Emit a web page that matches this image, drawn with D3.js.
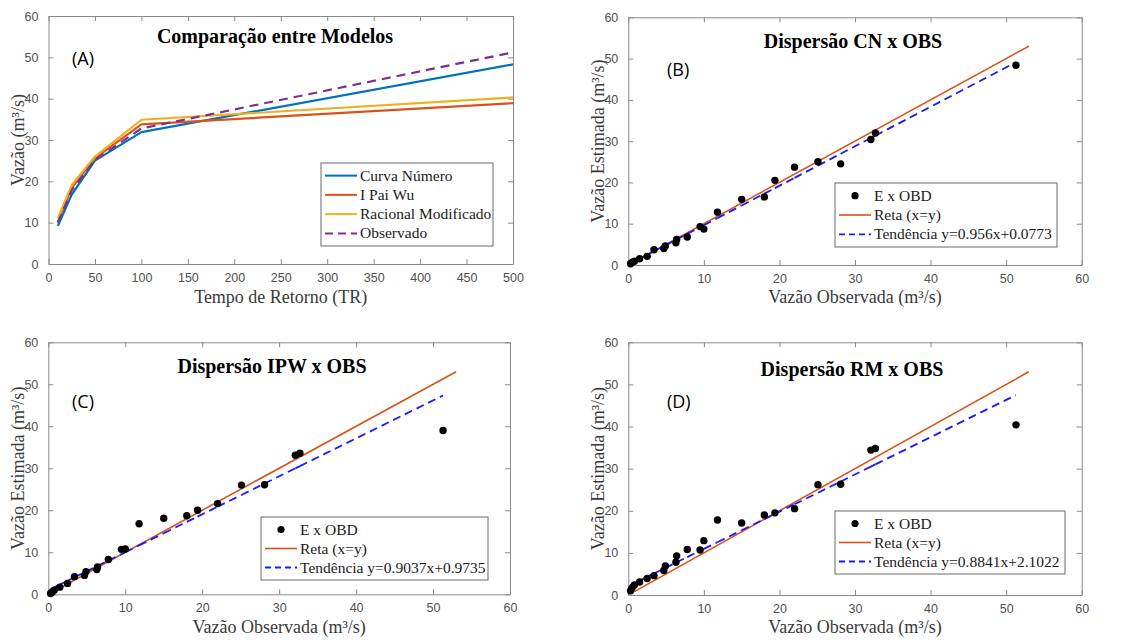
<!DOCTYPE html>
<html>
<head>
<meta charset="utf-8">
<script src="https://cdn.jsdelivr.net/npm/d3@7"></script>
<style>
  html, body { margin: 0; padding: 0; background: #fff; }
  svg { display: block; }
</style>
</head>
<body>
<div id="chart"></div>
<script>
// ---- dados (A) comparacao entre modelos
const tempoRetorno = [10, 25, 50, 100, 500];
const curvaNumero = [9.2, 16.8, 25.0, 31.9, 48.3];
const iPaiWu = [10.2, 18.4, 25.6, 33.8, 38.9];
const racionalModificado = [11.0, 19.1, 26.0, 34.9, 40.3];
const observado = [10.0, 17.8, 25.2, 32.8, 51.2];
const ticksTR = [0, 50, 100, 150, 200, 250, 300, 350, 400, 450, 500];
const ticksVazao = [0, 10, 20, 30, 40, 50, 60];

// ---- dados dispersao (B, C, D)
const vazaoObs = [0.3, 0.5, 0.8, 1.5, 2.5, 3.4, 4.7, 4.9, 6.3, 6.4, 7.8, 9.5, 10.0, 11.8, 15.0, 18.0, 19.4, 22.0, 25.1, 28.1, 32.1, 32.7, 51.3];
const estimadaCN = [0.3, 0.6, 0.9, 1.5, 2.1, 3.7, 4.0, 4.6, 5.4, 6.2, 6.8, 9.3, 8.7, 12.8, 15.9, 16.5, 20.5, 23.7, 25.0, 24.5, 30.4, 32.0, 48.4];
const estimadaIPW = [0.2, 0.5, 1.0, 1.7, 2.6, 4.2, 4.5, 5.4, 5.9, 6.5, 8.3, 10.7, 10.8, 16.8, 18.1, 18.7, 20.0, 21.6, 26.0, 26.1, 33.1, 33.6, 39.0];
const estimadaRM = [1.0, 1.7, 2.4, 3.1, 3.9, 4.6, 5.8, 6.9, 7.8, 9.3, 10.8, 10.7, 12.9, 17.8, 17.1, 19.0, 19.5, 20.5, 26.2, 26.3, 34.4, 34.8, 40.4];
const retaXY = [0.8, 53];
const tendenciaCN = { a: 0.956, b: 0.0773, txt: '0.956x+0.0773' };
const tendenciaIPW = { a: 0.9037, b: 0.9735, txt: '0.9037x+0.9735' };
const tendenciaRM = { a: 0.8841, b: 2.1022, txt: '0.8841x+2.1022' };
const ticksDisp = [0, 10, 20, 30, 40, 50, 60];

const W = 1133, H = 640;
const serif = '"Liberation Serif", "Times New Roman", serif';
const sans = '"Liberation Sans", Arial, sans-serif';
const axisGray = '#8a8a8a';
const labelGray = '#505050';
const textGray = '#3a3a3a';
const colors = {
    blue: '#0072BD',
    orange: '#D95319',
    yellow: '#EDB120',
    purple: '#7E2F8E',
    trend: '#1a1aff'
};

const svg = d3.select('#chart').append('svg')
    .attr('width', W)
    .attr('height', H)
    .attr('viewBox', [0, 0, W, H]);

function drawAxes(g, x, y, xTicks, yTicks) {
    const [x0, x1] = x.range();
    const [y0, y1] = y.range();
    const tick = -5;

    g.append('g')
        .attr('transform', `translate(0,${y0})`)
        .call(d3.axisBottom(x).tickValues(xTicks).tickSizeInner(tick).tickSizeOuter(0).tickPadding(9))
        .call(a => styleAxis(a));
    g.append('g')
        .attr('transform', `translate(0,${y1})`)
        .call(d3.axisTop(x).tickValues(xTicks).tickSizeInner(tick).tickSizeOuter(0).tickFormat(''))
        .call(a => styleAxis(a));
    g.append('g')
        .attr('transform', `translate(${x0},0)`)
        .call(d3.axisLeft(y).tickValues(yTicks).tickSizeInner(tick).tickSizeOuter(0).tickPadding(10))
        .call(a => styleAxis(a));
    g.append('g')
        .attr('transform', `translate(${x1},0)`)
        .call(d3.axisRight(y).tickValues(yTicks).tickSizeInner(tick).tickSizeOuter(0).tickFormat(''))
        .call(a => styleAxis(a));
}

function styleAxis(a) {
    a.attr('font-family', sans).attr('font-size', 12.5);
    a.selectAll('.domain').attr('stroke', axisGray).attr('stroke-width', 1);
    a.selectAll('.tick line').attr('stroke', axisGray);
    a.selectAll('.tick text').attr('fill', labelGray);
}

function drawLabels(g, p) {
    const [x0, x1] = p.x.range();
    g.append('text')
        .attr('x', p.titlePos[0]).attr('y', p.titlePos[1])
        .attr('text-anchor', 'middle')
        .attr('font-family', serif).attr('font-weight', 'bold').attr('font-size', 20)
        .attr('fill', '#000')
        .text(p.title);
    g.append('text')
        .attr('x', p.letterPos[0]).attr('y', p.letterPos[1])
        .attr('font-family', '"Open Sans", "Noto Sans", sans-serif').attr('font-size', 18)
        .attr('fill', '#000')
        .text(p.letter);
    g.append('text')
        .attr('x', (x0 + x1) / 2).attr('y', p.xLabelY)
        .attr('text-anchor', 'middle')
        .attr('font-family', serif).attr('font-size', 18)
        .attr('fill', textGray)
        .text(p.xLabel);
    g.append('text')
        .attr('transform', `translate(${p.yLabelX},${d3.mean(p.y.range())}) rotate(-90)`)
        .attr('text-anchor', 'middle')
        .attr('font-family', serif).attr('font-size', 18)
        .attr('fill', textGray)
        .text(p.yLabel);
}

function drawLegend(g, box, items) {
    const [bx, by, bw, bh] = box;
    const lg = g.append('g').attr('transform', `translate(${bx},${by})`);
    lg.append('rect')
        .attr('width', bw).attr('height', bh)
        .attr('fill', '#fff').attr('stroke', '#6b6b6b').attr('stroke-width', 1);
    const step = (bh - 6) / items.length;
    items.forEach((it, i) => {
        const cy = 3 + step * (i + 0.5);
        if (it.type === 'dot') {
            lg.append('circle').attr('cx', 20).attr('cy', cy).attr('r', 3.6).attr('fill', '#000');
        } else {
            lg.append('line')
                .attr('x1', 4).attr('x2', 36).attr('y1', cy).attr('y2', cy)
                .attr('stroke', it.color).attr('stroke-width', it.width || 2)
                .attr('stroke-dasharray', it.dash || null);
        }
        lg.append('text')
            .attr('x', 39).attr('y', cy + 5)
            .attr('font-family', serif).attr('font-size', 15.5)
            .attr('fill', '#1a1a1a')
            .text(it.text);
    });
}

// ---- painel A
(function () {
    const x = d3.scaleLinear().domain([0, 500]).range([48.5, 513]);
    const y = d3.scaleLinear().domain([0, 60]).range([264, 16]);
    const g = svg.append('g');
    drawAxes(g, x, y, ticksTR, ticksVazao);

    const series = [
        { name: 'Curva Número', values: curvaNumero, color: colors.blue },
        { name: 'I Pai Wu', values: iPaiWu, color: colors.orange },
        { name: 'Racional Modificado', values: racionalModificado, color: colors.yellow },
        { name: 'Observado', values: observado, color: colors.purple, dash: '9,6' }
    ];
    const line = d3.line().x((d, i) => x(tempoRetorno[i])).y(d => y(d));
    g.selectAll('path.serie')
        .data(series)
        .join('path')
        .attr('class', 'serie')
        .attr('fill', 'none')
        .attr('stroke', d => d.color)
        .attr('stroke-width', 2.2)
        .attr('stroke-linejoin', 'round')
        .attr('stroke-dasharray', d => d.dash || null)
        .attr('d', d => line(d.values));

    drawLabels(g, {
        x, y,
        title: 'Comparação entre Modelos', titlePos: [275, 43],
        letter: '(A)', letterPos: [72, 65],
        xLabel: 'Tempo de Retorno (TR)', xLabelY: 303,
        yLabel: 'Vazão (m³/s)', yLabelX: 24
    });

    drawLegend(g, [321, 163, 172, 83], series.map(s => ({
        type: 'line', color: s.color, dash: s.dash ? '8,5' : null, text: s.name
    })));
})();

// ---- paineis de dispersao
const scatterPanels = [
    {
        est: estimadaCN, trend: tendenciaCN, rect: [628.3, 1081.7, 17.3, 265],
        title: 'Dispersão CN x OBS', titlePos: [853, 48], letter: '(B)', letterPos: [667, 76],
        xLabelY: 303, yLabelX: 604, legend: [835, 183, 222, 64]
    },
    {
        est: estimadaIPW, trend: tendenciaIPW, rect: [48.3, 510, 342.3, 594.3],
        title: 'Dispersão IPW x OBS', titlePos: [272, 373], letter: '(C)', letterPos: [72, 408],
        xLabelY: 633, yLabelX: 24, legend: [261, 517, 227, 63]
    },
    {
        est: estimadaRM, trend: tendenciaRM, rect: [628.3, 1081.7, 342.3, 595],
        title: 'Dispersão RM x OBS', titlePos: [852, 376], letter: '(D)', letterPos: [667, 408],
        xLabelY: 633, yLabelX: 604, legend: [835, 511, 230, 63]
    }
];

scatterPanels.forEach(p => {
    const [l, r, t, b] = p.rect;
    const x = d3.scaleLinear().domain([0, 60]).range([l, r]);
    const y = d3.scaleLinear().domain([0, 60]).range([b, t]);
    const g = svg.append('g');
    drawAxes(g, x, y, ticksDisp, ticksDisp);

    // reta x=y
    g.append('path')
        .attr('fill', 'none')
        .attr('stroke', colors.orange)
        .attr('stroke-width', 1.6)
        .attr('d', d3.line().x(d => x(d)).y(d => y(d))(retaXY));

    // tendencia (segmento a segmento, o tracejado recomeça como no original)
    const tline = d3.line().x(d => x(d)).y(d => y(p.trend.a * d + p.trend.b));
    g.selectAll('path.tend')
        .data(d3.pairs(vazaoObs))
        .join('path')
        .attr('class', 'tend')
        .attr('fill', 'none')
        .attr('stroke', colors.trend)
        .attr('stroke-width', 1.8)
        .attr('stroke-dasharray', '8,5')
        .attr('d', d => tline(d));

    g.selectAll('circle.pt')
        .data(vazaoObs)
        .join('circle')
        .attr('class', 'pt')
        .attr('cx', d => x(d))
        .attr('cy', (d, i) => y(p.est[i]))
        .attr('r', 3.7)
        .attr('fill', '#000');

    drawLabels(g, {
        x, y,
        title: p.title, titlePos: p.titlePos,
        letter: p.letter, letterPos: p.letterPos,
        xLabel: 'Vazão Observada (m³/s)', xLabelY: p.xLabelY,
        yLabel: 'Vazão Estimada (m³/s)', yLabelX: p.yLabelX
    });

    drawLegend(g, p.legend, [
        { type: 'dot', text: 'E x OBD' },
        { type: 'line', color: colors.orange, width: 1.6, text: 'Reta (x=y)' },
        { type: 'line', color: colors.trend, width: 1.8, dash: '6,4', text: 'Tendência y=' + p.trend.txt }
    ]);
});
</script>
</body>
</html>
